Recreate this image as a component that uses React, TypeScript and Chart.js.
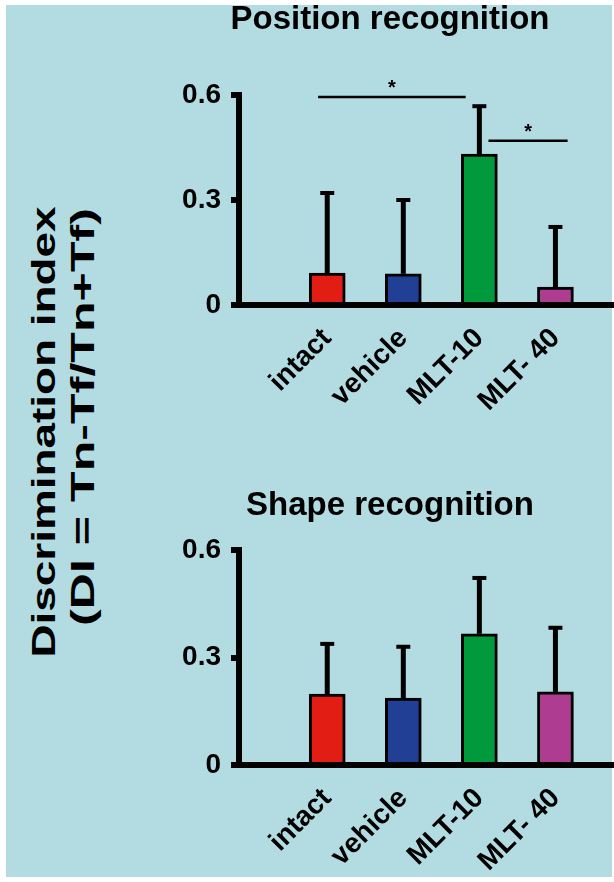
import React, { useEffect, useRef } from 'react';
import { Chart, ChartConfiguration, Plugin, registerables } from 'chart.js';

Chart.register(...registerables);

const categories = ['intact', 'vehicle', 'MLT-10', 'MLT- 40'];
const barColors = ['#e11d14', '#213f95', '#009a3d', '#ae3c90'];

const positionMeans = [0.091, 0.089, 0.431, 0.051];
const positionSem = [0.229, 0.211, 0.137, 0.172];

const shapeMeans = [0.198, 0.187, 0.366, 0.204];
const shapeSem = [0.14, 0.143, 0.156, 0.179];

const yTicks = [0, 0.3, 0.6];

// significance bars of the position panel (x in category units, y in DI units)
const sigFrom = [-0.12, 2.12];
const sigTo = [1.82, 3.16];
const sigLevel = [0.594, 0.469];
const sigMark = ['*', '*'];

const FONT = "'Liberation Sans', Arial, Helvetica, sans-serif";
const BG = '#b3dce2';

interface PanelProps {
    title: string;
    means: number[];
    sem: number[];
    top: number;
    height: number;
    titleTop: number;
    titleBottom: number;
    xAxisHeight: number;
    showSig?: boolean;
}

const LEFT = 166;
const WIDTH = 614 - LEFT;

const BarPanel: React.FC<PanelProps> = ({ title, means, sem, top, height, titleTop, titleBottom, xAxisHeight, showSig }) => {
    const canvasRef = useRef<HTMLCanvasElement>(null);
    const chartRef = useRef<Chart | null>(null);

    useEffect(() => {
        if (!canvasRef.current) return;
        if (chartRef.current) chartRef.current.destroy();

        const errorBars: Plugin<'bar'> = {
            id: 'errorBars',
            afterDatasetsDraw(chart) {
                const { ctx } = chart;
                const y = chart.scales.y;
                const meta = chart.getDatasetMeta(0);
                ctx.save();
                ctx.strokeStyle = '#000';
                meta.data.forEach((bar: any, i: number) => {
                    const end = y.getPixelForValue(means[i] + sem[i]);
                    ctx.lineWidth = 5;
                    ctx.beginPath();
                    ctx.moveTo(bar.x, bar.y);
                    ctx.lineTo(bar.x, end);
                    ctx.stroke();
                    ctx.lineWidth = 4;
                    ctx.beginPath();
                    ctx.moveTo(bar.x - 7, end);
                    ctx.lineTo(bar.x + 7, end);
                    ctx.stroke();
                });
                ctx.restore();
            }
        };

        const sigBars: Plugin<'bar'> = {
            id: 'sigBars',
            afterDraw(chart) {
                if (!showSig) return;
                const { ctx } = chart;
                const { x, y } = chart.scales;
                ctx.save();
                ctx.strokeStyle = '#000';
                ctx.fillStyle = '#000';
                ctx.lineWidth = 2.5;
                ctx.font = `bold 20px ${FONT}`;
                ctx.textAlign = 'center';
                ctx.textBaseline = 'alphabetic';
                sigLevel.forEach((lvl, i) => {
                    const x1 = x.getPixelForValue(sigFrom[i]);
                    const x2 = x.getPixelForValue(sigTo[i]);
                    const py = y.getPixelForValue(lvl);
                    ctx.beginPath();
                    ctx.moveTo(x1, py);
                    ctx.lineTo(x2, py);
                    ctx.stroke();
                    ctx.fillText(sigMark[i], (x1 + x2) / 2, py - 3);
                });
                ctx.restore();
            }
        };

        const config: ChartConfiguration<'bar'> = {
            type: 'bar',
            data: {
                datasets: [{
                    data: means.map((m, i) => ({ x: i, y: m })) as any,
                    backgroundColor: barColors,
                    borderColor: '#000',
                    borderWidth: 3,
                    borderSkipped: 'bottom',
                    barThickness: 36,
                }]
            },
            options: {
                animation: false,
                responsive: false,
                layout: { padding: 0 },
                plugins: {
                    legend: { display: false },
                    tooltip: { enabled: false },
                    title: {
                        display: true,
                        text: title,
                        color: '#000',
                        font: { family: FONT, size: 33, weight: 'bold' },
                        padding: { top: titleTop, bottom: titleBottom }
                    }
                },
                scales: {
                    x: {
                        type: 'linear',
                        min: -1.16,
                        max: 3.77,
                        offset: false,
                        z: 1,
                        grid: { display: false, drawTicks: false },
                        border: { display: true, color: '#000', width: 6 },
                        afterBuildTicks: (axis: any) => {
                            axis.ticks = categories.map((_, i) => ({ value: i }));
                        },
                        afterFit: (axis: any) => {
                            axis.height = xAxisHeight;
                        },
                        ticks: {
                            autoSkip: false,
                            minRotation: 45,
                            maxRotation: 45,
                            padding: 17,
                            color: '#000',
                            font: { family: FONT, size: 28, weight: 'bold' },
                            callback: (v) => categories[Math.round(Number(v))]
                        }
                    },
                    y: {
                        min: 0,
                        max: 0.6,
                        afterBuildTicks: (axis: any) => {
                            axis.ticks = yTicks.map((v) => ({ value: v }));
                        },
                        afterFit: (axis: any) => {
                            axis.width = 239 - LEFT;
                        },
                        grid: { drawOnChartArea: false, drawTicks: true, tickLength: 8, lineWidth: 6, color: '#000' },
                        border: { display: true, color: '#000', width: 6 },
                        ticks: {
                            padding: 10,
                            color: '#000',
                            font: { family: FONT, size: 28, weight: 'bold' },
                            callback: (v) => (Number(v) === 0 ? '0' : Number(v).toFixed(1))
                        }
                    }
                }
            },
            plugins: [errorBars, sigBars]
        };

        chartRef.current = new Chart(canvasRef.current, config);

        return () => {
            if (chartRef.current) {
                chartRef.current.destroy();
                chartRef.current = null;
            }
        };
    }, [title, means, sem, showSig, titleTop, titleBottom, xAxisHeight]);

    return (
        <canvas
            ref={canvasRef}
            width={WIDTH}
            height={height}
            style={{ position: 'absolute', left: LEFT, top, width: WIDTH, height }}
        />
    );
};

const yTitleStyle = (cx: number, cy: number, stretch: number): React.CSSProperties => ({
    position: 'absolute',
    left: cx,
    top: cy,
    transform: `translate(-50%, -50%) rotate(-90deg) scale(${stretch}, 1)`,
    whiteSpace: 'nowrap',
    lineHeight: 1,
    font: `bold 33px ${FONT}`,
    color: '#000'
});

export default function App() {
    useEffect(() => {
        document.documentElement.style.overflow = 'hidden';
    }, []);

    return (
        <div style={{ position: 'absolute', left: 0, top: 0, width: 614, height: 882, background: '#fff', overflow: 'hidden' }}>
            <div style={{ position: 'absolute', left: 6, top: 5, width: 606, height: 872, background: BG }} />
            <div style={yTitleStyle(43.5, 432, 1.39)}>Discrimination index</div>
            <div style={yTitleStyle(82.5, 417, 1.52)}>(DI = Tn-Tf/Tn+Tf)</div>
            <BarPanel
                title="Position recognition"
                means={positionMeans}
                sem={positionSem}
                top={0}
                height={440}
                titleTop={0}
                titleBottom={55.4}
                xAxisHeight={135}
                showSig
            />
            <BarPanel
                title="Shape recognition"
                means={shapeMeans}
                sem={shapeSem}
                top={470}
                height={412}
                titleTop={16.2}
                titleBottom={24.2}
                xAxisHeight={117}
            />
        </div>
    );
}
